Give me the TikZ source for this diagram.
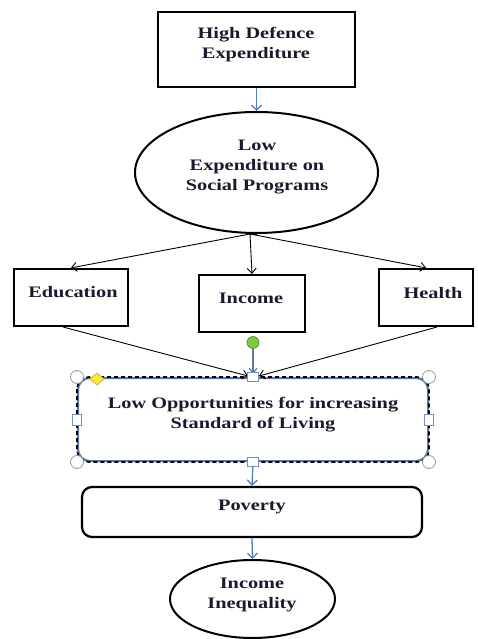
\documentclass[tikz,border=0pt]{standalone}
\usepackage{fontspec}
\setmainfont{Liberation Serif}[FakeStretch=1.27]
\usetikzlibrary{arrows.meta,shapes.geometric}
\definecolor{inkc}{RGB}{28,24,48}
\definecolor{flowblue}{RGB}{79,129,189}
\definecolor{handleedge}{RGB}{120,145,180}
\definecolor{selblue}{RGB}{90,120,165}
\definecolor{rotgreen}{RGB}{122,204,60}
\definecolor{rotgreenedge}{RGB}{70,130,40}
\definecolor{adjyellow}{RGB}{250,232,60}
\definecolor{adjyellowedge}{RGB}{190,170,30}
\tikzset{
  txt/.style={font=\bfseries\fontsize{16}{20}\selectfont, text=inkc, align=center, inner sep=0pt},
  shapebox/.style={draw=black, line width=2.4pt, inner sep=0pt},
  ellbox/.style={ellipse, draw=black, line width=2pt, inner sep=0pt},
  roundbox/.style={draw=black, line width=2.2pt, rounded corners=10pt, inner sep=0pt},
  blackflow/.style={draw=black, line width=0.9pt, -{Straight Barb[length=5pt,width=9pt]}},
  blueflow/.style={draw=flowblue, line width=1.3pt, -{Straight Barb[length=5pt,width=10pt]}},
  cornerhandle/.style={circle, draw=gray!80, fill=white, line width=0.8pt, minimum size=13pt, inner sep=0pt},
  sidehandle/.style={rectangle, draw=handleedge, fill=white, line width=0.9pt, minimum width=11pt, minimum height=9pt, inner sep=0pt},
}
\begin{document}
\begin{tikzpicture}[x=1pt, y=-1pt]
\useasboundingbox (0,0) rectangle (477,639);

% top cause
\node[shapebox, minimum width=197pt, minimum height=75pt] (def) at (256.5,49.5) {};
\node[txt] (deft) at (256,45) {High Defence\\Expenditure};

% social programme spending
\node[ellbox, minimum width=243pt, minimum height=121pt] (soc) at (256.5,172.5) {};
\node[txt] (soct) at (257,167) {Low\\Expenditure on\\Social Programs};
\coordinate (split) at (250,234);

% three sectors
\node[shapebox, line width=2.2pt, minimum width=114pt, minimum height=57pt] (edu) at (71,297.5) {};
\node[txt] (edut) at (73,292) {Education};
\node[shapebox, line width=2.2pt, minimum width=106pt, minimum height=57pt] (inc) at (252,303.5) {};
\node[txt] (inct) at (251,298) {Income};
\node[shapebox, line width=2.2pt, minimum width=94pt, minimum height=57pt] (hea) at (426,297.5) {};
\node[txt] (heat) at (433,293) {Health};

% selected box with its handles
\node[draw=selblue, line width=2pt, rounded corners=12pt, minimum width=350pt, minimum height=83pt, inner sep=0pt] (opp) at (253,419.5) {};
\draw[black, line width=1.6pt, dash pattern=on 4pt off 3pt, rounded corners=12pt]
  (opp.north west) rectangle (opp.south east);
\node[txt] (oppt) at (253,415) {Low Opportunities for increasing\\Standard of Living};

% poverty
\node[roundbox, minimum width=340pt, minimum height=50pt] (pov) at (252,512) {};
\node[txt] (povt) at (252,507) {Poverty};

% inequality
\node[ellbox, minimum width=165pt, minimum height=78pt] (ineq) at (252.5,599) {};
\node[txt] (ineqt) at (252,595) {Income\\Inequality};

% connectors
\draw[blueflow] (def.south) -- (soc.north);
\draw[black, line width=0.9pt] (soc.south) -- (split);
\draw[blackflow] (split) -- (edu.north);
\draw[blackflow] (split) -- (inc.north);
\draw[blackflow] (split) -- (hea.north);
\coordinate (edufoot) at (63,327);
\coordinate (heafoot) at (437,327);
\coordinate (oppinl) at (248,376);
\coordinate (oppinr) at (259,376);
\draw[blackflow] (edufoot) -- (oppinl);
\draw[blackflow] (heafoot) -- (oppinr);
\node[circle, draw=rotgreenedge, fill=rotgreen, line width=0.6pt, minimum size=12pt, inner sep=0pt] (rot) at (253,342.5) {};
\draw[draw=selblue, line width=1.1pt, -{Straight Barb[length=5pt,width=8pt]}] (rot.south) -- (253,374);
\draw[blueflow] (opp.south) -- (pov.north);
\draw[blueflow] (pov.south) -- (ineq.north);

% selection handles
\node[cornerhandle] (hnw) at (opp.north west) {};
\node[cornerhandle] (hne) at (opp.north east) {};
\node[cornerhandle] (hsw) at (opp.south west) {};
\node[cornerhandle] (hse) at (opp.south east) {};
\node[sidehandle] (hn) at (opp.north) {};
\node[sidehandle] (hs) at (opp.south) {};
\node[sidehandle, minimum width=9pt, minimum height=11pt] (hw) at (opp.west) {};
\node[sidehandle, minimum width=9pt, minimum height=11pt] (he) at (opp.east) {};
\node[diamond, draw=adjyellowedge, fill=adjyellow, line width=0.6pt, minimum width=15pt, minimum height=12pt, inner sep=0pt] (adj) at (97,379) {};
\end{tikzpicture}
\end{document}
